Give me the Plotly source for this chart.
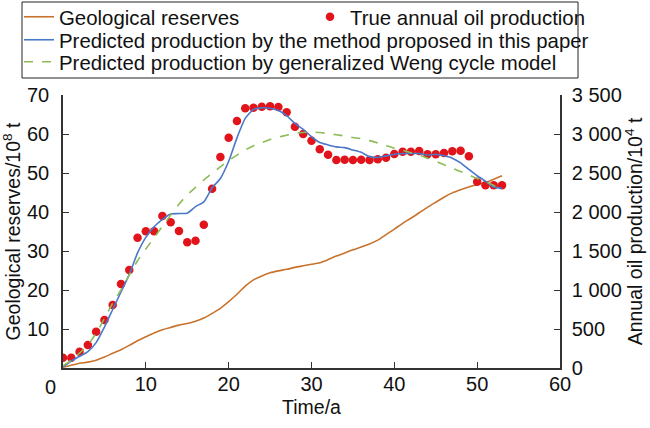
import plotly.graph_objects as go

# ---- data ----
years = list(range(54))

# Geological reserves, 10^8 t (left axis)
reserves = [0.2, 0.7, 1.2, 1.5, 2.0, 2.8, 3.8, 4.7, 5.8, 7.0,
            8.0, 9.0, 9.8, 10.4, 11.0, 11.4, 12.0, 12.8, 14.0, 15.3,
            17.0, 18.9, 21.0, 22.6, 23.6, 24.4, 24.9, 25.3, 25.8, 26.2,
            26.6, 27.0, 27.8, 28.7, 29.5, 30.3, 31.0, 31.8, 32.8, 34.2,
            35.6, 37.1, 38.4, 39.8, 41.2, 42.5, 43.8, 44.9, 45.7, 46.4,
            47.0, 47.6, 48.4, 49.3]

# True annual oil production, 10^4 t (right axis)
true_prod = [132, 132, 209, 295, 465, 615, 808, 1077, 1256, 1670,
             1752, 1752, 1949, 1868, 1756, 1611, 1632, 1837, 2299, 2705,
             2953, 3167, 3329, 3337, 3350, 3355, 3346, 3278, 3094, 3000,
             2914, 2804, 2735, 2667, 2671, 2667, 2671, 2667, 2676, 2696,
             2744, 2773, 2773, 2782, 2740, 2740, 2756, 2778, 2786, 2714,
             2388, 2342, 2342, 2342]

# Predicted production by the proposed method, 10^4 t
pred_method = [15, 90, 150, 210, 325, 525, 750, 975, 1200, 1475,
               1675, 1810, 1905, 1975, 1980, 1985, 2070, 2130, 2310, 2430,
               2650, 2950, 3200, 3315, 3335, 3330, 3300, 3235, 3135, 3060,
               2965, 2890, 2860, 2835, 2825, 2795, 2765, 2710, 2700, 2720,
               2740, 2750, 2750, 2750, 2730, 2740, 2720, 2690, 2630, 2545,
               2465, 2395, 2320, 2305]

# Predicted production by generalized Weng cycle model, 10^4 t
pred_weng = [25, 100, 190, 295, 445, 635, 830, 1000, 1190, 1375,
             1525, 1670, 1815, 1960, 2100, 2220, 2315, 2410, 2495, 2580,
             2660, 2730, 2795, 2850, 2890, 2930, 2960, 2985, 3010, 3020,
             3025, 3020, 3005, 2990, 2975, 2955, 2940, 2915, 2885, 2850,
             2820, 2790, 2760, 2730, 2690, 2650, 2605, 2560, 2520, 2475,
             2430, 2390, 2340, 2295]

x_ticks = [10, 20, 30, 40, 50, 60]
x_ticktext = ["10", "20", "30", "40", "50", "60"]
yl_ticks = [10, 20, 30, 40, 50, 60, 70]
yl_ticktext = ["10", "20", "30", "40", "50", "60", "70"]
yr_ticks = [0, 500, 1000, 1500, 2000, 2500, 3000, 3500]
yr_ticktext = ["0", "500", "1 000", "1 500", "2 000", "2 500", "3 000", "3 500"]

FONT = "Liberation Sans, Arial, sans-serif"
W, H = 650, 428
L, R, T, B = 63, 90, 95, 60
pw, ph = W - L - R, H - T - B

fig = go.Figure()
fig.add_trace(go.Scatter(x=years, y=reserves, mode="lines", name="Geological reserves",
                         line=dict(color="#C8722C", width=1.6, shape="spline", smoothing=0.6),
                         legend="legend"))
fig.add_trace(go.Scatter(x=years, y=true_prod, mode="markers", name="True annual oil production",
                         marker=dict(color="#E1131B", size=8.5), yaxis="y2", legend="legend2"))
fig.add_trace(go.Scatter(x=years, y=pred_method, mode="lines",
                         name="Predicted production by the method proposed in this paper",
                         line=dict(color="#4A78C8", width=1.6, shape="spline", smoothing=0.6),
                         yaxis="y2", legend="legend3"))
fig.add_trace(go.Scatter(x=years, y=pred_weng, mode="lines",
                         name="Predicted production by generalized Weng cycle model",
                         line=dict(color="#8DBB55", width=1.6, dash="dash", shape="spline", smoothing=0.6),
                         yaxis="y2", legend="legend4"))

def px2paper_x(px):
    return (px - L) / pw

def px2paper_y(py):
    return (H - B - py) / ph

LEG_FONT = 20.4
leg_common = dict(xref="container", yref="container", xanchor="left", yanchor="middle",
                  bgcolor="rgba(0,0,0,0)", borderwidth=0, orientation="h",
                  font=dict(family=FONT, size=LEG_FONT, color="#111"), itemwidth=30)

TICK = dict(family=FONT, size=20, color="#111")
TITLE = dict(family=FONT, size=19.5, color="#111")

fig.update_layout(
    width=W, height=H,
    margin=dict(l=L, r=R, t=T, b=B, autoexpand=False),
    paper_bgcolor="white", plot_bgcolor="white",
    font=dict(family=FONT, size=19, color="#111"),
    showlegend=True,
    legend=dict(x=19 / W, y=1 - 17 / H, **leg_common),
    legend2=dict(x=310 / W, y=1 - 17 / H, **leg_common),
    legend3=dict(x=19 / W, y=1 - 40 / H, **leg_common),
    legend4=dict(x=19 / W, y=1 - 62 / H, **leg_common),
    xaxis=dict(range=[0, 60], tickvals=x_ticks, ticktext=x_ticktext,
               ticks="inside", ticklen=6, tickcolor="#333", tickwidth=1.3,
               showline=True, linecolor="#333", linewidth=1.5, showgrid=False, zeroline=False,
               title=dict(text="Time/a", font=TITLE, standoff=7), ticklabelstandoff=-3,
               tickfont=TICK, automargin=False),
    yaxis=dict(range=[0, 70], tickvals=yl_ticks, ticktext=yl_ticktext,
               ticks="inside", ticklen=6, tickcolor="#333", tickwidth=1.3,
               showline=True, linecolor="#333", linewidth=1.5, showgrid=False, zeroline=False,
               title=dict(text="Geological reserves/10<sup>8</sup> t", font=TITLE),
               ticklabelstandoff=8, tickfont=TICK, automargin=False),
    yaxis2=dict(range=[0, 3500], tickvals=yr_ticks, ticktext=yr_ticktext, overlaying="y", side="right",
                ticks="inside", ticklen=6, tickcolor="#333", tickwidth=1.3,
                showline=True, linecolor="#333", linewidth=1.5, showgrid=False, zeroline=False,
                title=dict(text="Annual oil production/10<sup>4</sup> t", font=TITLE, standoff=8),
                ticklabelstandoff=6, tickfont=TICK, automargin=False),
)

# legend frame
fig.add_shape(type="rect", xref="paper", yref="paper",
              x0=px2paper_x(22), x1=px2paper_x(578), y0=px2paper_y(78), y1=px2paper_y(2),
              line=dict(color="#222", width=1), fillcolor="rgba(0,0,0,0)", layer="below")

# origin label "0" on the time axis (drawn left of the axis corner)
fig.add_annotation(text="0", xref="paper", yref="paper", x=px2paper_x(50), y=0,
                   xanchor="center", yanchor="top", yshift=-6, showarrow=False,
                   font=TICK)

fig.write_html("out.html", config={"displayModeBar": False},
               post_script="document.body.style.margin='0';document.body.style.padding='0';")
